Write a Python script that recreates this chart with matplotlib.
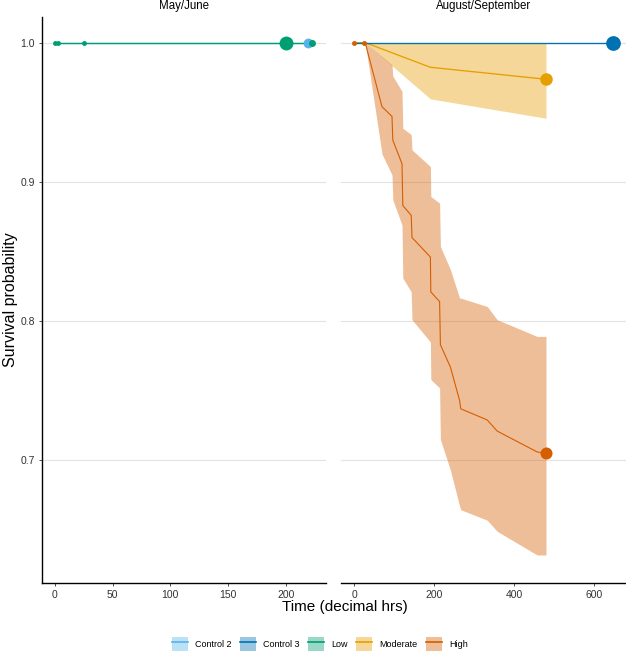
import numpy as np
import matplotlib
matplotlib.use("Agg")
import matplotlib.pyplot as plt
from matplotlib.patches import Patch
from matplotlib.lines import Line2D

plt.rcParams['font.family'] = ['Liberation Sans', 'DejaVu Sans']

# Colours per treatment
groups = ['Control 2', 'Control 3', 'Low', 'Moderate', 'High']
colors = {'Control 2': '#56B4E9', 'Control 3': '#0072B2', 'Low': '#009E73',
          'Moderate': '#E69F00', 'High': '#D55E00'}

# ---- May/June panel ----
mj_ctrl2_time = [0, 219]
mj_ctrl2_surv = [1.0, 1.0]
mj_low_time = [0, 223]
mj_low_surv = [1.0, 1.0]
# censoring points (group, time, survival, number censored)
mj_pt_group = ['Low', 'Low', 'Low', 'Low', 'Control 2', 'Low']
mj_pt_time = [0, 3, 25, 200, 219, 223]
mj_pt_surv = [1.0, 1.0, 1.0, 1.0, 1.0, 1.0]
mj_pt_n = [2, 2, 2, 16, 8, 4]

# ---- August/September panel ----
as_ctrl3_time = [0, 648]
as_ctrl3_surv = [1.0, 1.0]

as_mod_time = [0, 28, 191, 480]
as_mod_surv = [1.0, 1.0, 0.9823, 0.9737]
as_mod_lower = [1.0, 1.0, 0.9596, 0.9457]
as_mod_upper = [1.0, 1.0, 1.0, 1.0]

as_high_time = [0, 25, 28, 70, 95, 97, 120, 122, 143, 145, 191, 192, 214, 216,
                241, 264, 267, 333, 358, 458, 480]
as_high_surv = [1.0, 1.0, 1.0, 0.954, 0.947, 0.930, 0.913, 0.883, 0.876, 0.860,
                0.846, 0.821, 0.814, 0.783, 0.767, 0.743, 0.737, 0.729, 0.721,
                0.706, 0.705]
as_high_lower = [1.0, 1.0, 1.0, 0.920, 0.905, 0.887, 0.869, 0.831, 0.821, 0.801,
                 0.785, 0.758, 0.752, 0.715, 0.693, 0.667, 0.6645, 0.657, 0.649,
                 0.632, 0.632]
as_high_upper = [1.0, 1.0, 1.0, 0.990, 0.984, 0.976, 0.965, 0.9385, 0.934, 0.923,
                 0.911, 0.8895, 0.8847, 0.8536, 0.837, 0.8165, 0.8165, 0.8105,
                 0.801, 0.789, 0.789]

as_pt_group = ['High', 'High', 'High', 'Moderate', 'Control 3']
as_pt_time = [0, 25, 480, 480, 648]
as_pt_surv = [1.0, 1.0, 0.705, 0.9737, 1.0]
as_pt_n = [2, 2, 12, 13, 18]

y_ticks = [0.7, 0.8, 0.9, 1.0]

W, H = 626, 653
fig = plt.figure(figsize=(W / 100, H / 100), dpi=100)

top_px, bot_px = 17.3, 582.7
ax1 = fig.add_axes([41.7 / W, 1 - bot_px / H, (326 - 41.7) / W, (bot_px - top_px) / H])
ax2 = fig.add_axes([341 / W, 1 - bot_px / H, (686 - 341) / W, (bot_px - top_px) / H])

lw = 0.95


def msize(n):
    return 2.5 * np.sqrt(n)


# May/June
ax1.plot(mj_ctrl2_time, mj_ctrl2_surv, color=colors['Control 2'], lw=lw, zorder=3)
ax1.plot(mj_low_time, mj_low_surv, color=colors['Low'], lw=lw, zorder=3)
for g, t, s, n in zip(mj_pt_group, mj_pt_time, mj_pt_surv, mj_pt_n):
    ax1.plot(t, s, 'o', color=colors[g], ms=msize(n), mec='none', zorder=4)

# August/September
ax2.fill_between(as_mod_time, as_mod_lower, as_mod_upper, color=colors['Moderate'],
                 alpha=0.4, lw=0, zorder=2)
ax2.fill_between(as_high_time, as_high_lower, as_high_upper, color=colors['High'],
                 alpha=0.4, lw=0, zorder=2)
ax2.plot(as_high_time, as_high_surv, color=colors['High'], lw=0.8, zorder=3)
ax2.plot(as_mod_time, as_mod_surv, color=colors['Moderate'], lw=lw, zorder=3)
ax2.plot(as_ctrl3_time, as_ctrl3_surv, color=colors['Control 3'], lw=lw, zorder=3)
for g, t, s, n in zip(as_pt_group, as_pt_time, as_pt_surv, as_pt_n):
    ax2.plot(t, s, 'o', color=colors[g], ms=msize(n), mec='none', zorder=4)

ylim = (0.6121, 1.0182)
for ax in (ax1, ax2):
    ax.set_ylim(*ylim)
    ax.set_yticks(y_ticks)
    ax.yaxis.grid(True, color='#E3E3E3', lw=0.8)
    ax.set_axisbelow(True)
    ax.spines['top'].set_visible(False)
    ax.spines['right'].set_visible(False)
    ax.spines['bottom'].set_linewidth(1.0)
    ax.tick_params(axis='both', labelsize=7.5, colors='#333333', length=2.5, width=0.6,
                   pad=2.5)

ax1.set_xlim(-11.5, 235)
ax1.set_xticks([0, 50, 100, 150, 200])
ax1.set_yticklabels([f"{v:.1f}" for v in y_ticks])
ax1.spines['left'].set_linewidth(1.0)

ax2.set_xticks([0, 200, 400, 600])
ax2.spines['left'].set_visible(False)
ax2.tick_params(axis='y', left=False, labelleft=False)
# right panel runs past the image edge; keep the scale of the original
ax2.set_xlim(-32.5, -32.5 + (686 - 341) / 0.4)

fig.text(183.9 / W, 1 - 6 / H, 'May/June', ha='center', va='center', fontsize=8.3)
fig.text(483.9 / W, 1 - 6 / H, 'August/September', ha='center', va='center', fontsize=8.3)
fig.text(11 / W, 1 - 300 / H, 'Survival probability', rotation=90, ha='center',
         va='center', fontsize=11.5)
fig.text(345 / W, 1 - 607 / H, 'Time (decimal hrs)', ha='center', va='center',
         fontsize=11)

handles = [(Patch(facecolor=colors[g], alpha=0.4, edgecolor='none'),
            Line2D([], [], color=colors[g], lw=1.2)) for g in groups]
fig.legend(handles, groups, loc='center', bbox_to_anchor=(320 / W, 1 - 644 / H),
           ncol=5, frameon=False, fontsize=6.5, handlelength=1.8, handleheight=2.0,
           handletextpad=0.8, columnspacing=0.9, borderaxespad=0)

fig.savefig('out.png', dpi=100)
